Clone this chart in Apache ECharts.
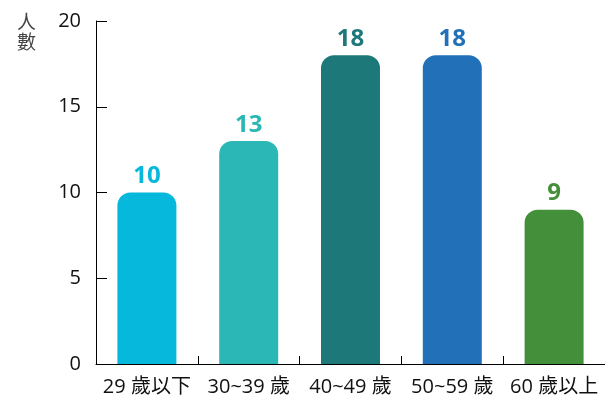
<!DOCTYPE html>
<html><head><meta charset="utf-8">
<script src="https://cdn.jsdelivr.net/npm/echarts@6/dist/echarts.min.js"></script>
<style>html,body{margin:0;padding:0;background:#fff}#c{width:605px;height:401px}</style>
</head><body><div id="c"></div>
<script>
const categories = ['29 歲以下', '30~39 歲', '40~49 歲', '50~59 歲', '60 歲以上'];
const values = [10, 13, 18, 18, 9];
const colors = ['#06B8DC', '#2BB7B5', '#1D787A', '#2271B8', '#448F3A'];
const yTicks = [0, 5, 10, 15, 20];
const FONT = '"Open Sans", "Noto Sans CJK TC", sans-serif';
const chart = echarts.init(document.getElementById('c'));
chart.setOption({
  animation: false,
  grid: {left: 96, right: -2, top: 21, bottom: 37, containLabel: false},
  graphic: [{type: 'text', left: 17, top: 12, style: {text: '人\n數', font: '19px "Noto Sans CJK TC"', fill: '#444', lineHeight: 20}}],
  xAxis: {
    type: 'category', data: categories,
    axisLine: {lineStyle: {color: '#000', width: 1}},
    axisTick: {show: true, inside: true, length: 8, interval: 0, lineStyle: {color: '#000'}},
    axisLabel: {color: '#111', fontSize: 20, fontFamily: FONT, margin: 13, interval: 0, hideOverlap: false}
  },
  yAxis: {
    type: 'value', min: 0, max: 20, interval: 5,
    axisLine: {show: true, lineStyle: {color: '#000'}},
    axisTick: {show: true, inside: true, length: 11, lineStyle: {color: '#000'}},
    splitLine: {show: false},
    axisLabel: {color: '#111', fontSize: 20, fontFamily: FONT, margin: 15,
      formatter: v => yTicks.includes(v) ? String(v) : ''}
  },
  series: [{
    type: 'bar', barWidth: 59,
    data: values.map((v, i) => ({value: v, itemStyle: {color: colors[i], borderRadius: [13, 13, 0, 0]},
      label: {color: colors[i]}})),
    label: {show: true, position: 'top', distance: 4, fontSize: 24, fontWeight: 'bold', fontFamily: FONT}
  }]
});
</script></body></html>
